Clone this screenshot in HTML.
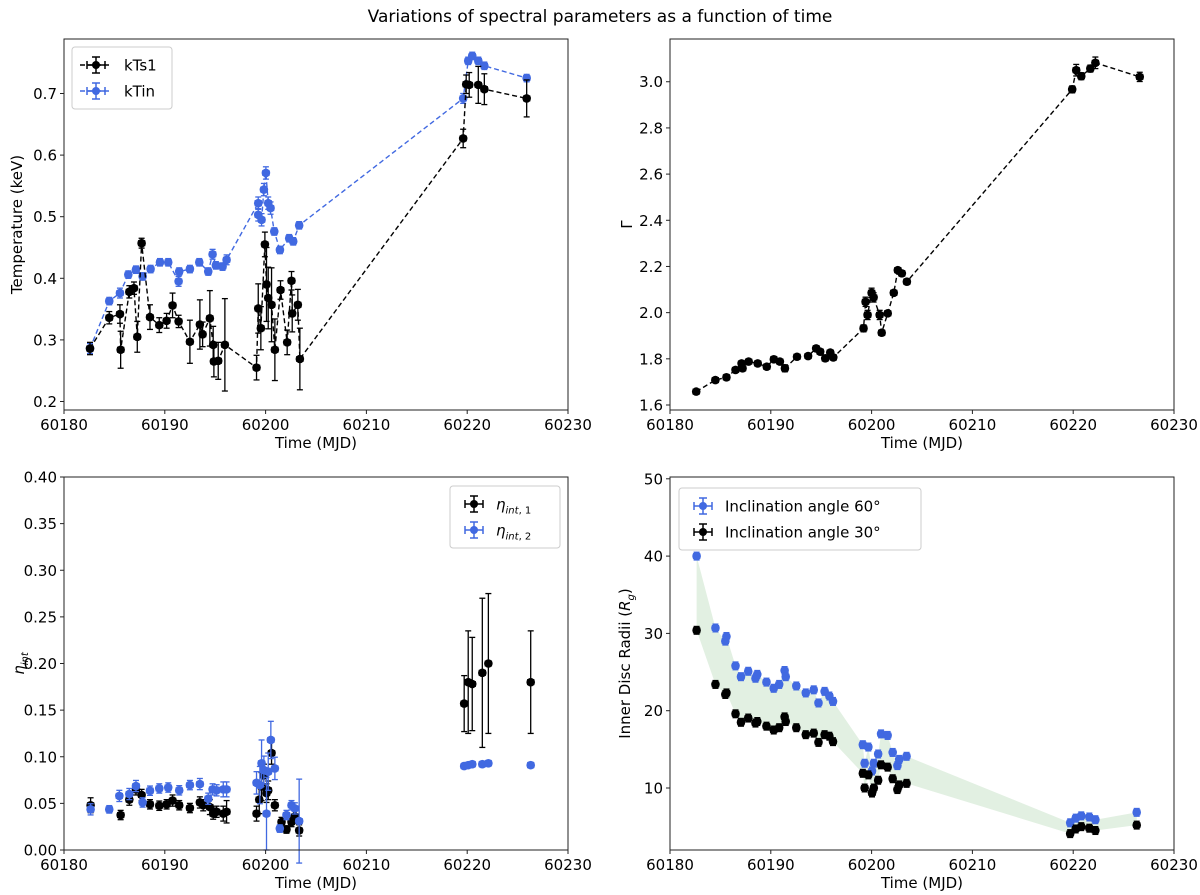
<!DOCTYPE html>
<html><head><meta charset="utf-8"><style>
body{margin:0;background:#fff;}
svg{display:block;font-family:"DejaVu Sans","Liberation Sans",sans-serif;}
</style></head><body>
<svg id="fig" width="1200" height="895" viewBox="0 0 1200 895" xmlns="http://www.w3.org/2000/svg">
<text x="600" y="22" font-size="17" text-anchor="middle">Variations of spectral parameters as a function of time</text>
</svg>
<script>
// ---- data ----
const tKts1 = [2.58,4.49,5.55,5.62,6.48,6.94,7.27,7.70,8.53,9.45,10.18,10.77,11.37,12.49,13.48,13.75,14.47,14.80,14.87,15.30,15.96,19.10,19.27,19.53,19.93,20.09,20.26,20.59,20.92,21.48,22.14,22.57,22.64,23.20,23.40,39.6,39.9,40.2,41.1,41.7,45.9];
const vKts1 = [.286,.336,.342,.284,.378,.384,.305,.457,.337,.324,.331,.356,.330,.297,.325,.309,.335,.292,.265,.266,.292,.255,.351,.319,.455,.390,.368,.357,.284,.381,.296,.396,.343,.357,.269,.627,.715,.714,.714,.707,.692];
const eKts1 = [.01,.01,.015,.03,.01,.01,.025,.008,.02,.012,.012,.02,.01,.035,.04,.02,.045,.03,.025,.03,.075,.02,.04,.035,.02,.06,.05,.06,.05,.015,.02,.015,.03,.025,.05,.015,.015,.02,.03,.025,.03];
const tKtin = [2.58,4.49,5.55,6.38,7.14,7.80,8.59,9.52,10.34,11.37,11.43,12.49,13.42,14.31,14.74,15.07,15.73,16.13,19.27,19.27,19.60,19.83,20.03,20.26,20.49,20.86,21.42,22.34,22.74,23.33,39.6,40.1,40.5,41.1,41.7,45.9];
const vKtin = [.286,.363,.376,.406,.414,.403,.415,.426,.426,.395,.411,.415,.426,.411,.439,.421,.419,.43,.522,.503,.495,.544,.571,.522,.514,.476,.446,.465,.46,.486,.692,.753,.761,.753,.745,.725];
const eKtin = [.008,.006,.008,.006,.006,.006,.006,.006,.006,.008,.006,.006,.006,.006,.008,.006,.006,.008,.01,.01,.01,.01,.01,.01,.01,.006,.006,.006,.006,.006,.008,.006,.006,.006,.006,.006];
const tGamma = [2.6,4.5,5.6,6.5,7.1,7.2,7.8,8.7,9.6,10.3,10.9,11.4,12.6,13.7,14.5,14.9,15.4,15.9,16.2,19.2,19.4,19.6,20.0,20.2,20.8,21.0,21.6,22.2,22.6,23.0,23.5,39.9,40.3,40.8,41.7,42.2,46.6];
const vGamma = [1.658,1.708,1.72,1.752,1.78,1.759,1.788,1.78,1.766,1.798,1.788,1.759,1.809,1.812,1.845,1.831,1.802,1.827,1.806,1.932,2.047,1.99,2.086,2.066,1.99,1.913,1.997,2.086,2.184,2.17,2.134,2.967,3.05,3.024,3.057,3.082,3.021];
const eGamma = [.01,.01,.012,.01,.01,.012,.01,.01,.01,.012,.01,.015,.01,.01,.012,.01,.012,.01,.012,.015,.02,.02,.02,.02,.02,.012,.01,.01,.01,.012,.012,.015,.025,.015,.015,.025,.02];
const tEta1 = [2.64,5.62,6.48,7.14,7.70,8.53,9.45,10.18,10.77,11.43,12.49,13.48,13.81,14.47,14.80,15.14,15.80,16.13,19.10,19.37,19.60,19.83,20.09,20.26,20.59,20.92,21.58,22.07,22.57,22.90,23.33,39.7,40.1,40.5,41.5,42.1,46.3];
const vEta1 = [.048,.0375,.054,.065,.059,.049,.0475,.049,.053,.048,.045,.051,.048,.046,.039,.041,.039,.041,.039,.054,.068,.080,.061,.064,.104,.048,.030,.022,.030,.036,.021,.157,.18,.178,.19,.20,.18];
const eEta1 = [.008,.005,.006,.006,.006,.005,.005,.005,.006,.005,.005,.006,.006,.008,.006,.006,.008,.012,.008,.015,.015,.012,.01,.01,.012,.006,.005,.004,.005,.006,.006,.03,.055,.05,.08,.075,.055];
const tEta2 = [2.64,4.49,5.49,6.48,7.14,7.80,8.53,9.45,10.34,11.43,12.49,13.48,14.31,14.74,15.14,15.80,16.13,19.10,19.43,19.60,19.83,20.09,20.26,20.52,20.92,21.41,22.07,22.57,22.90,23.33,39.7,40.1,40.5,41.5,42.1,46.3];
const vEta2 = [.0436,.0436,.058,.060,.0686,.051,.0636,.066,.067,.064,.0696,.0707,.055,.065,.064,.065,.065,.072,.0696,.093,.0857,.039,.084,.118,.0875,.023,.0375,.048,.0446,.031,.09,.091,.092,.092,.093,.091];
const eEta2 = [.006,.004,.006,.006,.006,.005,.005,.005,.005,.005,.005,.006,.006,.006,.006,.008,.008,.012,.02,.025,.015,.039,.02,.02,.012,.004,.005,.005,.006,.045,.003,.003,.003,.003,.003,.003];
const tRin = [2.64,4.51,5.49,5.6,6.5,7.04,7.76,8.48,8.66,9.57,10.29,10.83,11.37,11.48,12.53,13.47,14.26,14.73,15.34,15.81,16.17,19.13,19.31,19.68,20.04,20.22,20.65,20.94,21.59,22.09,22.56,22.74,23.47,39.7,40.25,40.8,41.6,42.2,46.3];
const vRin60 = [40.0,30.7,29.0,29.6,25.8,24.4,25.1,24.2,24.7,23.7,22.9,23.4,25.2,24.4,23.2,22.3,22.7,21.0,22.5,21.9,21.2,15.6,13.2,15.3,12.2,13.2,14.4,17.0,16.8,14.6,12.9,13.7,14.1,5.5,6.1,6.4,6.25,5.9,6.85];
const vRin30 = [30.4,23.4,22.1,22.3,19.6,18.5,19.05,18.4,18.6,18.0,17.5,17.8,19.2,18.6,17.8,16.9,17.1,15.9,16.9,16.7,16.0,11.9,10.0,11.7,9.35,10.0,11.0,13.0,12.7,11.2,9.8,10.4,10.6,4.1,4.7,5.0,4.8,4.5,5.2];
const xTicks = [60180,60190,60200,60210,60220,60230];
const yTicksTemp = [0.2,0.3,0.4,0.5,0.6,0.7];
const yTicksGamma = [1.6,1.8,2.0,2.2,2.4,2.6,2.8,3.0];
const yTicksEta = [0,0.05,0.10,0.15,0.20,0.25,0.30,0.35,0.40];
const yTicksRin = [10,20,30,40,50];
const T0 = 60180;

const NS="http://www.w3.org/2000/svg";
const svg=document.getElementById('fig');
const BLUE="#4169e1";
function mk(tag,attrs,parent){const e=document.createElementNS(NS,tag);for(const k in attrs)e.setAttribute(k,attrs[k]);(parent||svg).appendChild(e);return e;}

function makeAxes(name,x0,x1,y0,y1,xmin,xmax,ymin,ymax){
  const g=mk('g',{});
  
  
  const sx=v=>x0+(v-xmin)/(xmax-xmin)*(x1-x0);
  const sy=v=>y1-(v-ymin)/(ymax-ymin)*(y1-y0);
  return {g,sx,sy,x0,x1,y0,y1};
}
function frame(ax){
  const r=mk('rect',{x:ax.x0,y:ax.y0,width:ax.x1-ax.x0,height:ax.y1-ax.y0,fill:'none',stroke:'#222','stroke-width':1},ax.g);
  
  
}
function xticks(ax,label){
  xTicks.forEach(v=>{const x=ax.sx(v);
    mk('line',{x1:x,x2:x,y1:ax.y1,y2:ax.y1+4,stroke:'#222'},ax.g);
    const t=mk('text',{x:x,y:ax.y1+20,'font-size':15,'text-anchor':'middle'},ax.g);t.textContent=v;
    
    
  });
  const l=mk('text',{x:(ax.x0+ax.x1)/2,y:ax.y1+38,'font-size':15,'text-anchor':'middle'},ax.g);l.textContent=label;
  
  
}
function yticks(ax,ticks,dec){
  ticks.forEach(v=>{const y=ax.sy(v);
    mk('line',{x1:ax.x0-4,x2:ax.x0,y1:y,y2:y,stroke:'#222'},ax.g);
    const t=mk('text',{x:ax.x0-7,y:y+5.5,'font-size':15,'text-anchor':'end'},ax.g);t.textContent=v.toFixed(dec);
    
    
  });
}
function ylabel(ax,x,html,name){
  const t=mk('text',{x:x,y:(ax.y0+ax.y1)/2,'font-size':15,'text-anchor':'middle',transform:`rotate(-90 ${x} ${(ax.y0+ax.y1)/2})`},ax.g);
  t.innerHTML=html;
  
  
}
function series(ax,ts,vs,es,xe,color,dashed,name){
  const g=mk('g',{},ax.g);
  
  
  if(dashed){
    const pts=ts.map((t,i)=>ax.sx(T0+t)+','+ax.sy(vs[i])).join(' ');
    const pl=mk('polyline',{points:pts,fill:'none',stroke:color,'stroke-width':1.4,'stroke-dasharray':'5,3'},g);
    
    
  }
  ts.forEach((t,i)=>{
    const x=ax.sx(T0+t),y=ax.sy(vs[i]);
    const ya=ax.sy(vs[i]+es[i]),yb=ax.sy(Math.max(vs[i]-es[i],-1));
    const xa=ax.sx(T0+t-xe),xb=ax.sx(T0+t+xe);
    mk('line',{x1:x,x2:x,y1:ya,y2:yb,stroke:color,'stroke-width':1.3},g);
    mk('line',{x1:x-3,x2:x+3,y1:ya,y2:ya,stroke:color,'stroke-width':1.3},g);
    mk('line',{x1:x-3,x2:x+3,y1:yb,y2:yb,stroke:color,'stroke-width':1.3},g);
    mk('line',{x1:xa,x2:xb,y1:y,y2:y,stroke:color,'stroke-width':1.3},g);
    mk('line',{x1:xa,x2:xa,y1:y-3,y2:y+3,stroke:color,'stroke-width':1.3},g);
    mk('line',{x1:xb,x2:xb,y1:y-3,y2:y+3,stroke:color,'stroke-width':1.3},g);
    const c=mk('circle',{cx:x,cy:y,r:4.3,fill:color},g);
    
    
  });
}
function legend(ax,x,y,w,entries,name){
  const g=mk('g',{},ax.g);
  
  
  mk('rect',{x:x,y:y,width:w,height:entries.length*26+10,rx:3,fill:'#fff',stroke:'#ccc','fill-opacity':0.8},g);
  entries.forEach((e,i)=>{
    const cy=y+18+i*26,cx=x+24;
    if(e.dashed) mk('line',{x1:x+8,x2:x+40,y1:cy,y2:cy,stroke:e.color,'stroke-width':1.4,'stroke-dasharray':'5,3'},g);
    mk('line',{x1:cx,x2:cx,y1:cy-8,y2:cy+8,stroke:e.color,'stroke-width':1.5},g);
    mk('line',{x1:cx-4,x2:cx+4,y1:cy-8,y2:cy-8,stroke:e.color,'stroke-width':1.5},g);
    mk('line',{x1:cx-4,x2:cx+4,y1:cy+8,y2:cy+8,stroke:e.color,'stroke-width':1.5},g);
    mk('line',{x1:cx-9,x2:cx+9,y1:cy,y2:cy,stroke:e.color,'stroke-width':1.5},g);
    mk('line',{x1:cx-9,x2:cx-9,y1:cy-4,y2:cy+4,stroke:e.color,'stroke-width':1.5},g);
    mk('line',{x1:cx+9,x2:cx+9,y1:cy-4,y2:cy+4,stroke:e.color,'stroke-width':1.5},g);
    mk('circle',{cx:cx,cy:cy,r:4,fill:e.color},g);
    const t=mk('text',{x:x+(e.dashed?52:46),y:cy+5.5,'font-size':15},g);t.innerHTML=e.label;
    
    
  });
}

// Top-left: temperature
const a1=makeAxes('temperature-panel',64,568,39,410,60180,60230,0.2-(410-401.5)/616,0.2+(401.5-39)/616);
series(a1,tKtin,vKtin,eKtin,0.3,BLUE,true,'ktin-series');
series(a1,tKts1,vKts1,eKts1,0.3,'#000',true,'kts1-series');
frame(a1);xticks(a1,'Time (MJD)');yticks(a1,yTicksTemp,1);
ylabel(a1,22,'Temperature (keV)','y-axis-title');
legend(a1,72,47,100,[{label:'kTs1',color:'#000',dashed:true},{label:'kTin',color:BLUE,dashed:true}],'temperature-legend');

// Top-right: gamma
const a2=makeAxes('gamma-panel',670,1174,39,410,60180,60230,1.6-(410-405)/230.9,1.6+(405-39)/230.9);
series(a2,tGamma,vGamma,eGamma,0.3,'#000',true,'gamma-series');
frame(a2);xticks(a2,'Time (MJD)');yticks(a2,yTicksGamma,1);
ylabel(a2,632,'Γ','y-axis-title');

// Bottom-left: eta
const a3=makeAxes('eta-panel',64,568,477,850,60180,60230,0,0.4);
series(a3,tEta1,vEta1,eEta1,0.3,'#000',false,'eta1-series');
series(a3,tEta2,vEta2,eEta2,0.3,BLUE,false,'eta2-series');
frame(a3);xticks(a3,'Time (MJD)');yticks(a3,yTicksEta,2);
ylabel(a3,24,'<tspan font-style="italic">η</tspan><tspan font-size="10" font-style="italic" dy="4">int</tspan>','y-axis-title');
legend(a3,450,486,110,[{label:'<tspan font-style="italic">η</tspan><tspan font-size="10" dy="4"><tspan font-style="italic">int</tspan>, 1</tspan>',color:'#000'},{label:'<tspan font-style="italic">η</tspan><tspan font-size="10" dy="4"><tspan font-style="italic">int</tspan>, 2</tspan>',color:BLUE}],'eta-legend');

// Bottom-right: radii
const a4=makeAxes('radii-panel',670,1174,477,850,60180,60230,10-(850-788)/7.73,10+(788-477)/7.73);
const fillPts=tRin.map((t,i)=>a4.sx(T0+t)+','+a4.sy(vRin60[i])).concat(tRin.map((t,i)=>a4.sx(T0+t)+','+a4.sy(vRin30[i])).reverse()).join(' ');
const band=mk('polygon',{points:fillPts,fill:'#e2f0e2',stroke:'none'},a4.g);


const eR=tRin.map(()=>0.5);
series(a4,tRin,vRin60,eR,0.3,BLUE,false,'inclination-60-series');
series(a4,tRin,vRin30,eR,0.3,'#000',false,'inclination-30-series');
frame(a4);xticks(a4,'Time (MJD)');yticks(a4,yTicksRin,0);
ylabel(a4,630,'Inner Disc Radii (<tspan font-style="italic">R</tspan><tspan font-size="10" font-style="italic" dy="4">g</tspan><tspan dy="-4">)</tspan>','y-axis-title');
legend(a4,679,488,242,[{label:'Inclination angle 60°',color:BLUE},{label:'Inclination angle 30°',color:'#000'}],'radii-legend');
</script>
</body></html>
